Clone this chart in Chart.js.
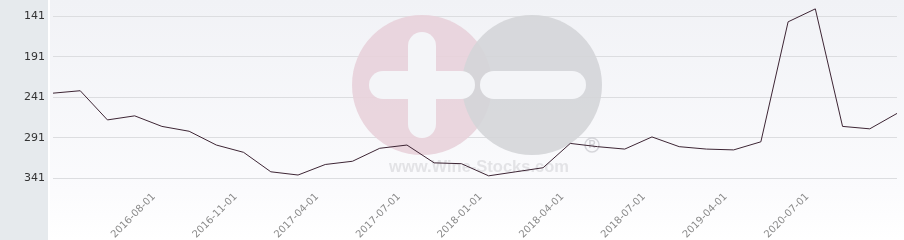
<!DOCTYPE html>
<html lang="en">
<head>
<meta charset="UTF-8">
<title>Price history</title>
<script src="https://cdn.jsdelivr.net/npm/chart.js"></script>
<style>
    html, body { margin: 0; padding: 0; background: #ffffff; }
    .chart-box { width: 904px; height: 240px; position: relative; }
</style>
</head>
<body>
<div class="chart-box">
    <canvas id="chartHistorico"></canvas>
</div>

<script>
// datas (só algumas aparecem no eixo)
const labels = [
    '2016-04-01', '2016-05-01', '2016-06-01', '2016-07-01', '2016-08-01', '2016-09-01',
    '2016-10-01', '2016-11-01', '2017-01-01', '2017-03-01', '2017-04-01', '2017-05-01',
    '2017-06-01', '2017-07-01', '2017-09-01', '2017-11-01', '2018-01-01', '2018-02-01',
    '2018-03-01', '2018-04-01', '2018-05-01', '2018-06-01', '2018-07-01', '2018-10-01',
    '2019-01-01', '2019-04-01', '2019-10-01', '2020-04-01', '2020-07-01', '2020-10-01',
    '2021-01-01', '2021-04-01'
];
const shownDates = [
    '2016-08-01', '2016-11-01', '2017-04-01', '2017-07-01', '2018-01-01',
    '2018-04-01', '2018-07-01', '2019-04-01', '2020-07-01'
];
const valores = [
    236, 233, 269, 264, 277, 283, 300, 309, 333, 337, 324, 320,
    304, 300, 322, 323, 338, 333, 328, 298, 302, 305, 290, 302,
    305, 306, 296, 148, 132, 277, 280, 261
];
const yTicks = [141, 191, 241, 291, 341];
const yMin = 126;
const yMax = 353;

// fundo + marca d'agua
const fundoPlugin = {
    id: 'fundo',
    beforeDraw(chart) {
        const ctx = chart.ctx;
        const w = chart.width, h = chart.height;
        ctx.save();
        ctx.fillStyle = '#ffffff';
        ctx.fillRect(0, 0, w, h);
        const grad = ctx.createLinearGradient(0, 0, 0, h);
        grad.addColorStop(0, '#f1f2f6');
        grad.addColorStop(0.8, '#fbfbfd');
        grad.addColorStop(1, '#ffffff');
        ctx.fillStyle = grad;
        ctx.fillRect(50, 0, w - 50, h);
        ctx.fillStyle = '#e6eaed';
        ctx.fillRect(0, 0, 48, h);
        ctx.restore();
    },
    beforeDatasetsDraw(chart) {
        const ctx = chart.ctx;
        const a = chart.chartArea;
        const cx = (a.left + a.right) / 2 + 2;
        const cy = (a.top + a.bottom) / 2 - 11;
        const r = 70;
        ctx.save();
        ctx.globalAlpha = 0.9;
        // circulo rosa
        ctx.fillStyle = '#e8d1da';
        ctx.beginPath();
        ctx.arc(cx - 55, cy, r, 0, Math.PI * 2);
        ctx.fill();
        // circulo cinza
        ctx.fillStyle = '#d4d5d8';
        ctx.beginPath();
        ctx.arc(cx + 55, cy, r, 0, Math.PI * 2);
        ctx.fill();
        // mais e menos
        ctx.globalAlpha = 1;
        ctx.fillStyle = '#f4f5f8';
        ctx.beginPath();
        ctx.roundRect(cx - 69, cy - 53, 28, 106, 14);
        ctx.fill();
        ctx.beginPath();
        ctx.roundRect(cx - 108, cy - 14, 106, 28, 14);
        ctx.fill();
        ctx.beginPath();
        ctx.roundRect(cx + 3, cy - 14, 106, 28, 14);
        ctx.fill();
        // texto
        ctx.fillStyle = 'rgba(200, 200, 205, 0.45)';
        ctx.font = 'bold 16.5px "Liberation Sans", Arial, sans-serif';
        ctx.textAlign = 'center';
        ctx.textBaseline = 'middle';
        ctx.fillText('www.Wine-Stocks.com', cx + 2, cy + 82);
        ctx.strokeStyle = 'rgba(200, 200, 205, 0.7)';
        ctx.lineWidth = 1.5;
        ctx.beginPath();
        ctx.arc(cx + 115, cy + 60, 7, 0, Math.PI * 2);
        ctx.stroke();
        ctx.font = 'bold 10px "Liberation Sans", Arial, sans-serif';
        ctx.fillStyle = 'rgba(200, 200, 205, 0.8)';
        ctx.fillText('R', cx + 115, cy + 60.5);
        ctx.restore();
    }
};

const data = {
    labels: labels,
    datasets: [
        {
            label: 'Preço',
            data: valores,
            fill: false,
            borderColor: '#3d2534',
            borderWidth: 1,
            tension: 0,
            pointRadius: 0
        }
    ]
};

const config = {
    type: 'line',
    data: data,
    options: {
        responsive: false,
        animation: false,
        layout: {
            padding: { top: 4, right: 7, left: 0, bottom: 0 }
        },
        plugins: {
            legend: { display: false },
            tooltip: { enabled: false }
        },
        scales: {
            x: {
                offset: false,
                grid: { display: false },
                border: { display: false },
                afterFit(scale) {
                    scale.height = 52;
                    scale.paddingLeft = 0;
                    scale.paddingRight = 0;
                },
                ticks: {
                    autoSkip: false,
                    minRotation: 45,
                    maxRotation: 45,
                    padding: -5,
                    labelOffset: -8,
                    color: '#8a8a8a',
                    font: { family: 'DejaVu Sans', size: 10 },
                    callback: function (value, index) {
                        const lbl = labels[index];
                        return shownDates.includes(lbl) ? lbl : '';
                    }
                }
            },
            y: {
                reverse: true,
                min: yMin,
                max: yMax,
                afterBuildTicks(scale) {
                    scale.ticks = yTicks.map(v => ({ value: v }));
                },
                afterFit(scale) {
                    scale.width = 53;
                    scale.paddingTop = 0;
                    scale.paddingBottom = 0;
                },
                grid: {
                    color: '#dcdde0',
                    drawTicks: false
                },
                border: { display: false },
                ticks: {
                    padding: 8,
                    color: '#333333',
                    font: { family: 'DejaVu Sans', size: 11 }
                }
            }
        }
    },
    plugins: [fundoPlugin]
};

const canvas = document.getElementById('chartHistorico');
canvas.width = 904;
canvas.height = 240;
const myChart = new Chart(canvas, config);
</script>
</body>
</html>
